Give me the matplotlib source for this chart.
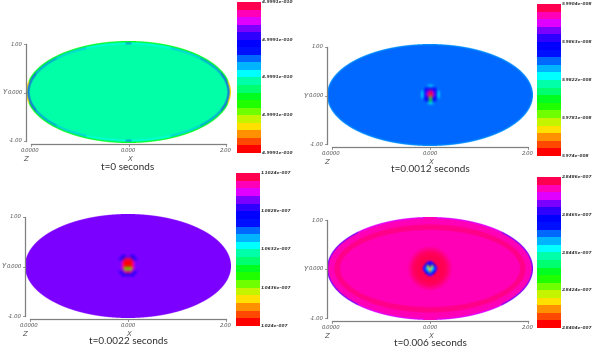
import numpy as np
import matplotlib
matplotlib.use("Agg")
import matplotlib.pyplot as plt
from matplotlib.colors import to_rgb

titles = ["t=0 seconds", "t=0.0012 seconds", "t=0.0022 seconds", "t=0.006 seconds"]
band_colors = ["#ff0000", "#ff4800", "#ff9000", "#ffe000", "#c4f400", "#70ff00", "#20ff00", "#00ff20",
               "#00ff70", "#00ffa8", "#00ffff", "#00b4ff", "#0068ff", "#0010ff", "#0000ff", "#3000ff",
               "#7c00ff", "#e000ff", "#ff00b8", "#ff0050"]
bar_labels = [["4.9991e-010"] * 5,
              ["5.974e-008", "5.9781e-008", "5.9822e-008", "5.9863e-008", "5.9904e-008"],
              ["1.024e-007", "1.0436e-007", "1.0632e-007", "1.0828e-007", "1.1024e-007"],
              ["2.8404e-007", "2.8424e-007", "2.8445e-007", "2.8465e-007", "2.8486e-007"]]
x_labels = ["0.0000", "0.000", "2.00"]
y_labels = ["-1.00", "0.000", "1.00"]
base_level = [9, 12, 16, 18]

ring_x = [0.0, 0.03, 0.06, 0.41, 0.70, 0.90, 0.97, 1.01]
ring_levels_0 = [12, 10, 10, 11, 12, 15, 15, 15]
rim_levels_0 = [7, 7, 7, 7, 7, 7, 3, 2]
rim_levels_3 = [18, 18, 17, 17, 16, 16, 16, 16]

T = -1
spot_1 = [[T, T, T, T, T, T, T, T, T],
          [T, T, T, 11, 10, 11, T, T, T],
          [T, T, 13, 14, 13, 14, 13, T, T],
          [T, 10, 14, 16, 19, 16, 14, 10, T],
          [T, 10, 13, 18, 0, 18, 13, 10, T],
          [T, 10, 14, 15, 5, 15, 14, 10, T],
          [T, T, 13, 14, 7, 14, 13, T, T],
          [T, T, T, 11, 10, 11, T, T, T],
          [T, T, T, T, T, T, T, T, T]]
spot_2 = [[T, T, T, T, T, T, T, T, T],
          [T, T, 14, 14, T, 14, 14, T, T],
          [T, 14, 15, 19, 19, 19, 15, 14, T],
          [T, T, 18, 0, 0, 0, 18, T, T],
          [T, T, 18, 0, 0, 0, 18, T, T],
          [T, T, 18, 5, 6, 5, 18, T, T],
          [T, 14, 15, 18, 19, 18, 15, 14, T],
          [T, T, 14, 14, 14, 14, 14, T, T],
          [T, T, T, T, T, T, T, T, T]]
spot_3 = [[T, T, T, T, T, T, T, T, T],
          [T, T, T, 16, 15, 16, T, T, T],
          [T, T, 14, 13, 14, 13, 14, T, T],
          [T, 16, 13, 3, 13, 3, 13, 16, T],
          [T, 15, 12, 10, 3, 10, 12, 15, T],
          [T, 16, 13, 11, 2, 11, 13, 16, T],
          [T, T, 14, 13, 12, 13, 14, T, T],
          [T, T, T, 16, 15, 16, T, T, T],
          [T, T, T, T, T, T, T, T, T]]
spots = [None, spot_1, spot_2, spot_3]
spot_half_px = [None, (12.5, 13.5), (13.0, 14.5), (10.0, 10.5)]
halo_r_px = [0, 8, 12, 16, 20, 23]
halo_alpha = [1.0, 1.0, 1.0, 0.85, 0.35, 0.0]

W, H = 600, 351
ell_boxes = [(26, 41, 231, 143), (327, 44, 533, 146), (25, 214, 231, 318), (327, 217, 533, 320)]
bar_boxes = [(237, 2, 261, 153), (537, 4, 561, 156), (236, 173, 260, 326), (537, 177, 561, 328)]
title_pos = [(128, 167), (430, 169.5), (128, 341), (430, 343)]
GREY = "#808080"
TXT = "#555555"

fig = plt.figure(figsize=(W / 100, H / 100), dpi=100)
rgb = np.array([to_rgb(c) for c in band_colors])


def box_ax(b):
    l, t, r, bo = b
    return fig.add_axes([l / W, 1 - bo / H, (r - l) / W, (bo - t) / H])


def soften(c, k=2):
    out = np.zeros_like(c)
    for dy in range(-k, k + 1):
        for dx in range(-k, k + 1):
            out += np.roll(np.roll(c, dy, axis=0), dx, axis=1)
    return out / (2 * k + 1) ** 2


def field(i, pa, pb, n=4):
    """RGBA picture of the ellipse, with distance from the rim measured in pixels."""
    xs = (np.arange(int(2 * pa * n)) + 0.5) / n - pa
    ys = (np.arange(int(2 * pb * n)) + 0.5) / n - pb
    X, Y = np.meshgrid(xs, ys)
    r = np.sqrt((X / pa) ** 2 + (Y / pb) ** 2)
    g = np.sqrt((X / pa ** 2) ** 2 + (Y / pb ** 2) ** 2) / np.maximum(r, 1e-6)
    d = (1 - r) / np.maximum(g, 1e-6)
    fx = np.abs(X) / pa
    idx = np.clip(np.searchsorted(ring_x, fx, side="right") - 1, 0, len(ring_x) - 1)
    lev = np.full(X.shape, base_level[i])
    if i == 0:
        lev = np.where(d < 3.6, np.array(ring_levels_0)[idx], lev)
        lev = np.where(d < 1.3, np.array(rim_levels_0)[idx], lev)
    elif i == 3:
        lev = np.where(d < 1.3, np.array(rim_levels_3)[idx], lev)
    col = rgb[lev]
    if i == 0:
        # the ring fades towards the base colour where it is thin and pale
        col = np.where((d >= 1.3)[..., None] & (d < 3.6)[..., None], 0.5 * col + 0.5 * rgb[base_level[i]], col)
    if i == 1:
        col = np.where((d < 1.2)[..., None], 0.5 * rgb[11] + 0.5 * rgb[12], col)
    if i == 3:
        col = np.where(((d >= 7.5) & (d < 13))[..., None], 0.55 * rgb[18] + 0.45 * rgb[19], col)
        a = np.interp(np.hypot(X, Y), halo_r_px, halo_alpha)[..., None]
        col = col * (1 - a) + rgb[19] * a
    col = soften(col)
    return np.dstack([col, (r <= 1).astype(float)])


for i in range(4):
    l, t, r_, bo = ell_boxes[i]
    pa, pb = (r_ - l) / 2, (bo - t) / 2
    ax = box_ax(ell_boxes[i])
    hx, hy = pa / 98.0, pb / 48.5
    ax.imshow(field(i, pa, pb), extent=(1 - hx, 1 + hx, -hy, hy), aspect="auto", interpolation="antialiased", origin="lower")
    if spots[i] is not None:
        m = np.array(spots[i])
        base = 18 if i == 3 else base_level[i]
        fill = 19 if i == 3 else base
        c = np.dstack([rgb[np.where(m < 0, fill, m)], (m >= 0).astype(float)])
        sx, sy = spot_half_px[i]
        ax.imshow(c, extent=(1 - sx / 98, 1 + sx / 98, -sy / 48.5, sy / 48.5), aspect="auto", interpolation="bicubic", zorder=3)
    ax.set_xlim(1 - hx, 1 + hx)
    ax.set_ylim(-hy, hy)
    ax.axis("off")

    cb = box_ax(bar_boxes[i])
    cb.imshow(rgb[::-1][:, None, :], aspect="auto", interpolation="nearest")
    cb.axis("off")

ov = fig.add_axes([0, 0, 1, 1], facecolor="none")
ov.set_xlim(0, W)
ov.set_ylim(H, 0)
ov.axis("off")
for i in range(4):
    l, t, r_, bo = ell_boxes[i]
    gx, gy = l - 0.5, bo + 0.8
    ytop, ybot = t + 3, bo - 2
    ov.plot([gx, gx], [ytop, ybot], color=GREY, lw=0.9)
    ov.plot([l + 4.5, r_ - 5], [gy, gy], color=GREY, lw=0.9)
    for yy, lab in zip([ybot, (ytop + ybot) / 2, ytop], y_labels):
        ov.plot([gx - 2, gx], [yy, yy], color=GREY, lw=0.6)
        ov.text(gx - 3, yy, lab, ha="right", va="center", fontsize=3.9, style="italic", color=TXT)
    for xx, lab in zip([l + 4.5, (l + r_) / 2, r_ - 5], x_labels):
        ov.plot([xx, xx], [gy, gy + 2], color=GREY, lw=0.6)
        ov.text(xx, gy + 7, lab, ha="center", va="center", fontsize=3.9, style="italic", color=TXT)
    ov.text(gx - 23, (ytop + ybot) / 2, "Y", fontsize=5, style="italic", color=TXT, va="center")
    ov.text((l + r_) / 2 + 1, gy + 15, "X", fontsize=5, style="italic", color=TXT, ha="center", va="center")
    ov.text(l, gy + 15, "Z", fontsize=5, style="italic", color=TXT, ha="center", va="center")
    ov.text(title_pos[i][0], title_pos[i][1], titles[i], fontsize=7.2, color="#333333", ha="center", va="center", family="Lato")
    bl, bt, br, bb = bar_boxes[i]
    for k, lab in enumerate(bar_labels[i]):
        ov.text(br + 1, bb - k * (bb - bt) / 4, lab, fontsize=3.2, style="italic", fontweight="bold", color="#333333", va="center")

fig.savefig("out.png", dpi=100)
